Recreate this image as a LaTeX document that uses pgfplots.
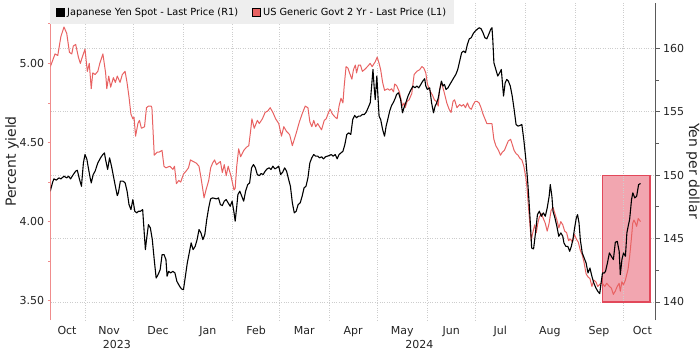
\documentclass[border=0pt]{standalone}
\usepackage{fontspec}
\setmainfont{DejaVu Sans}
\usepackage{pgfplots}
\pgfplotsset{compat=1.18}
\definecolor{usred}{RGB}{232,98,98}
\definecolor{leftax}{RGB}{240,140,140}
\definecolor{rightax}{RGB}{90,90,90}
\definecolor{gridc}{RGB}{205,205,205}
\definecolor{legbg}{RGB}{238,238,238}
\definecolor{rectfill}{RGB}{242,166,176}
\definecolor{rectdraw}{RGB}{226,72,90}
\definecolor{txt}{RGB}{35,35,35}
\pgfplotsset{
  base/.style={scale only axis, width=605pt, height=317pt, at={(0pt,0pt)}, anchor=south west,
    xmin=9.64, xmax=386.35,
    /pgf/number format/assume math mode=true,
    tick label style={font=\fontsize{11}{13}\selectfont, text=txt},
    label style={font=\fontsize{14}{16}\selectfont, text=txt},
  },
}
\begin{document}
\begin{tikzpicture}
% Axis A: right scale, grid, rectangle, right axis
\begin{axis}[base, ymin=138.58, ymax=163.58,
  axis x line=none, axis y line*=right,
  ytick={140,145,150,155,160}, minor ytick={142.5,147.5,152.5,157.5},
  ymajorgrids, major grid style={gridc, dotted, line width=0.6pt},
  y axis line style={rightax, line width=1.4pt},
  ytick style={rightax, line width=0.8pt}, tick align=outside,
  major tick length=4pt, minor tick length=3pt,
  ylabel={Yen per dollar},
  ylabel style={at={(axis description cs:1.0617,0.47)}, anchor=center, rotate=180},
]
\addplot[fill=rectfill, draw=rectdraw, line width=1.1pt, line join=miter] coordinates {(353.2,140) (382.8,140) (382.8,150) (353.2,150) (353.2,140)};
\end{axis}
% Axis B: left scale, US 2Y
\begin{axis}[base, ymin=3.378, ymax=5.382,
  axis y line*=left, axis x line*=bottom, x axis line style={draw=none},
  ytick={3.5,4,4.5,5}, minor ytick={3.75,4.25,4.75,5.25},
  yticklabel style={/pgf/number format/.cd, fixed, fixed zerofill, precision=2},
  y axis line style={leftax, line width=0.9pt}, ytick style={leftax, line width=0.8pt},
  tick align=outside, major tick length=3pt, minor tick length=2.5pt,
  xtick={19.8,46,76.5,107.5,137.5,167.5,198,228.5,259,289.5,320.5,351,378},
  xticklabels={Oct,Nov,Dec,Jan,Feb,Mar,Apr,May,Jun,Jul,Aug,Sep,Oct},
  xtick style={draw=none},
  minor xtick={31,61,92,123,152,183,213,244,274,305,336,366},
  xminorgrids, minor x grid style={gridc, dotted, line width=0.6pt},
  extra x ticks={50.8,239.2}, extra x tick labels={2023,2024},
  extra x tick style={grid=none, xticklabel style={yshift=-14pt}},
  ylabel={Percent yield},
  ylabel style={at={(axis description cs:-0.064,0.5)}, anchor=center},
]
\addplot[usred, line width=1pt, line join=round] coordinates {
(9.44,4.98) (12.35,5.06) (14.04,5.05) (15.98,5.17) (17.92,5.23) (19.62,5.19) (21.31,5.07) (22.76,5.06) (23.73,5.11) (25.19,5.12) (26.88,5.04) (28.09,5.00) (29.30,5.04) (31.0,5.09) (32.45,4.95) (33.66,5.00) (34.88,4.84) (35.84,4.94) (37.30,4.93) (38.99,4.95) (40.2,5.00) (42.14,5.06) (43.84,4.94) (44.56,4.84) (45.78,4.92) (46.99,4.85) (48.68,4.91) (49.89,4.88) (51.10,4.92) (52.80,4.88) (54.25,4.93) (55.95,4.95) (57.16,4.88) (58.37,4.79) (59.58,4.68) (60.79,4.65) (61.52,4.66) (62.49,4.54) (63.94,4.62) (64.91,4.64) (66.12,4.59) (68.06,4.60) (69.27,4.72) (70.48,4.73) (72.18,4.73) (72.66,4.72) (74.12,4.42) (76.05,4.44) (77.27,4.44) (78.96,4.45) (80.17,4.35) (81.38,4.34) (83.81,4.35) (85.74,4.33) (86.71,4.35) (87.92,4.24) (89.38,4.26) (90.59,4.25) (92.28,4.30) (93.98,4.32) (95.43,4.34) (96.65,4.39) (98.34,4.38) (100.28,4.37) (101.97,4.35) (103.18,4.28) (104.40,4.20) (105.12,4.15) (106.33,4.20) (108.03,4.26) (109.24,4.34) (110.45,4.37) (111.66,4.39) (112.87,4.36) (115.30,4.38) (116.51,4.31) (117.72,4.36) (118.93,4.29) (120.14,4.35) (121.84,4.29) (123.77,4.20) (124.50,4.21) (125.47,4.35) (126.68,4.46) (127.89,4.41) (129.83,4.45) (131.52,4.47) (132.98,4.48) (134.19,4.58) (134.92,4.65) (136.37,4.59) (138.31,4.64) (139.52,4.62) (141.46,4.65) (143.15,4.69) (144.85,4.70) (146.30,4.72) (148.0,4.69) (149.69,4.65) (151.63,4.62) (153.33,4.54) (154.78,4.60) (156.48,4.57) (158.41,4.55) (160.11,4.48) (161.32,4.52) (162.53,4.56) (164.47,4.63) (166.16,4.68) (168.10,4.73) (169.80,4.72) (171.01,4.63) (172.22,4.60) (173.43,4.64) (174.64,4.60) (175.85,4.62) (177.06,4.60) (178.28,4.58) (179.97,4.64) (181.18,4.65) (182.64,4.69) (183.61,4.71) (185.06,4.68) (186.76,4.66) (187.97,4.65) (189.18,4.73) (190.39,4.78) (191.60,4.75) (192.33,4.85) (193.54,4.98) (194.75,4.97) (195.72,4.94) (197.17,4.90) (198.14,4.96) (199.35,4.99) (200.08,4.94) (201.29,4.99) (202.50,4.99) (203.71,4.95) (204.92,4.96) (206.86,4.98) (208.55,5.00) (209.77,4.98) (211.70,5.01) (212.92,5.04) (214.13,5.00) (215.10,4.96) (216.31,4.88) (217.52,4.83) (219.46,4.84) (220.67,4.83) (221.88,4.84) (223.09,4.82) (223.82,4.87) (225.03,4.86) (226.73,4.82) (228.66,4.73) (229.63,4.75) (230.36,4.72) (231.57,4.76) (232.78,4.77) (234.48,4.81) (235.93,4.93) (237.63,4.95) (239.32,4.96) (240.78,4.98) (241.99,4.97) (243.20,4.94) (244.17,4.87) (245.62,4.83) (247.32,4.80) (248.53,4.77) (249.74,4.76) (250.95,4.73) (251.67,4.83) (252.88,4.88) (254.58,4.82) (256.28,4.75) (257.73,4.71) (258.94,4.69) (260.15,4.76) (261.12,4.77) (262.57,4.72) (264.27,4.74) (265.48,4.73) (266.69,4.74) (267.90,4.72) (269.11,4.75) (270.32,4.72) (271.53,4.71) (272.75,4.74) (273.96,4.76) (275.17,4.76) (276.38,4.75) (277.59,4.72) (278.80,4.68) (280.01,4.65) (281.22,4.62) (282.92,4.62) (284.37,4.62) (285.58,4.52) (286.80,4.48) (288.49,4.45) (289.70,4.42) (290.91,4.44) (292.12,4.45) (293.33,4.48) (294.55,4.51) (296.0,4.52) (296.97,4.49) (298.18,4.45) (299.39,4.43) (300.60,4.42) (301.81,4.40) (303.02,4.39) (304.24,4.35) (305.45,4.28) (306.17,4.22) (307.14,4.09) (308.11,3.97) (308.84,3.88) (309.81,3.93) (311.02,3.98) (311.99,3.93) (312.96,3.99) (313.93,4.03) (315.14,4.05) (316.35,4.02) (317.56,3.99) (318.77,3.94) (319.98,3.99) (321.19,4.07) (322.40,4.09) (323.61,4.05) (324.82,4.01) (326.04,3.96) (327.25,4.00) (328.46,3.98) (329.67,3.94) (330.88,3.93) (332.09,3.88) (333.30,3.89) (334.51,3.87) (335.73,3.92) (336.94,3.89) (338.15,3.87) (339.36,3.82) (340.57,3.79) (341.78,3.74) (342.99,3.67) (344.20,3.65) (345.41,3.64) (346.63,3.59) (347.84,3.63) (349.05,3.62) (350.26,3.59) (352.19,3.61) (353.16,3.61) (354.62,3.59) (355.83,3.61) (357.53,3.59) (358.74,3.58) (359.95,3.54) (361.16,3.56) (362.37,3.59) (363.58,3.61) (364.31,3.56) (365.28,3.62) (366.25,3.60) (367.46,3.63) (368.42,3.67) (369.15,3.70) (370.12,3.78) (371.09,3.88) (372.06,3.99) (372.78,4.01) (373.75,3.99) (374.48,3.97) (375.45,4.02) (376.90,4.00)
};
\end{axis}
% Axis C: right scale, JPY
\begin{axis}[base, ymin=138.58, ymax=163.58, hide axis,
  legend style={at={(axis description cs:0,1)}, anchor=north west, yshift=3pt, xshift=-0.7pt,
    fill=legbg, draw=none, inner xsep=6pt, inner ysep=5.5pt, legend columns=2,
    font=\fontsize{9.8}{11}\selectfont, text=black,
    /tikz/every even column/.append style={column sep=12pt}},
  legend cell align=left,
  legend image code/.code={\fill[#1] (0pt,-3.6pt) rectangle (7.4pt,3.6pt); \path (8.6pt,0pt);},
]
\addlegendimage{fill=black}
\addlegendentry{Japanese Yen Spot - Last Price (R1)}
\addlegendimage{fill=usred}
\addlegendentry{US Generic Govt 2 Yr - Last Price (L1)}
\addplot[black, line width=1.1pt, line join=round, forget plot] coordinates {
(9.4,148.74) (10.7,149.39) (11.6,149.71) (13.1,149.61) (14.8,149.79) (16.0,149.71) (17.9,149.92) (19.6,149.79) (20.8,149.92) (22.0,149.71) (23.7,150.05) (25.2,150.32) (26.2,150.39) (27.6,149.66) (28.8,149.13) (30.0,150.97) (31.0,151.63) (32.2,151.24) (32.9,150.71) (34.2,149.79) (34.9,149.39) (36.1,150.05) (37.3,150.32) (39.0,150.97) (40.7,151.37) (42.1,151.63) (43.1,151.76) (43.8,151.24) (45.1,150.45) (46.3,151.37) (47.5,150.71) (48.7,149.92) (49.9,149.13) (51.1,148.39) (51.8,148.61) (53.0,149.53) (54.7,149.53) (56.0,149.39) (57.2,148.74) (58.4,147.68) (59.6,147.29) (60.8,148.08) (62.0,147.16) (63.2,147.03) (64.4,147.16) (65.6,147.16) (66.9,147.29) (67.6,145.97) (68.6,144.13) (69.3,144.92) (70.5,146.10) (71.7,145.84) (72.9,144.92) (74.1,143.34) (75.3,141.89) (76.5,142.16) (77.8,142.55) (79.0,143.74) (80.2,143.74) (81.4,143.34) (82.1,142.03) (83.1,142.42) (84.3,142.29) (85.7,142.42) (87.0,142.29) (88.2,141.63) (89.9,141.24) (91.1,141.03) (92.3,140.97) (93.5,142.03) (94.7,143.08) (95.9,143.87) (97.1,144.66) (98.3,144.13) (99.6,144.39) (100.8,144.92) (102.0,145.71) (103.2,145.45) (104.4,144.92) (105.6,145.32) (106.8,146.50) (108.0,147.42) (109.2,148.13) (110.5,148.21) (112.9,148.13) (114.1,148.21) (115.3,147.68) (116.5,147.61) (117.7,147.95) (118.9,148.08) (120.1,147.82) (121.4,147.55) (122.6,147.95) (123.8,147.03) (124.5,146.37) (125.5,147.55) (126.2,148.47) (127.4,148.74) (128.6,148.34) (129.8,147.95) (131.0,148.74) (132.3,149.26) (133.5,149.39) (134.7,150.58) (135.9,150.84) (137.1,150.58) (138.3,150.05) (139.5,149.97) (140.7,150.13) (141.9,150.05) (143.2,150.32) (144.4,150.50) (145.6,150.58) (146.8,150.45) (148.0,150.71) (149.2,150.50) (150.4,150.58) (151.6,150.71) (152.8,150.05) (154.1,150.24) (155.3,150.58) (156.5,150.32) (157.7,149.71) (158.9,149.13) (160.1,147.82) (161.3,147.03) (162.5,147.16) (163.7,147.68) (165.0,147.82) (166.2,148.34) (167.4,149.00) (168.6,149.13) (169.8,149.79) (171.0,150.97) (172.2,151.37) (173.4,151.63) (174.6,151.50) (175.9,151.50) (177.1,151.37) (178.3,151.45) (179.5,151.29) (180.7,151.45) (181.9,151.50) (183.1,151.55) (184.3,151.63) (185.5,151.50) (186.8,151.63) (188.0,151.29) (189.2,151.63) (190.4,151.76) (191.6,151.89) (192.8,152.42) (194.0,153.21) (195.2,153.34) (196.5,153.21) (197.7,154.39) (198.9,154.71) (200.1,154.53) (201.3,154.66) (202.5,154.66) (203.7,154.79) (204.9,154.79) (206.1,154.97) (207.3,155.32) (208.6,155.71) (209.3,156.76) (210.3,158.34) (211.0,157.03) (211.7,155.97) (212.7,157.82) (213.4,156.24) (214.1,154.66) (215.1,154.39) (216.3,153.61) (217.5,153.08) (218.5,153.87) (219.5,154.39) (220.7,155.05) (221.9,155.50) (223.1,155.76) (224.3,156.11) (225.0,156.37) (226.2,156.50) (227.5,155.97) (228.7,154.92) (229.6,155.32) (231.1,155.84) (232.1,156.24) (233.5,156.63) (235.2,157.03) (236.4,156.89) (237.6,157.03) (238.8,156.89) (240.1,157.16) (241.3,157.42) (242.5,157.61) (243.2,157.03) (244.2,156.76) (245.6,156.89) (246.8,155.71) (248.0,154.92) (249.0,155.45) (250.0,155.71) (251.0,156.11) (251.9,156.76) (252.9,157.42) (253.9,157.03) (254.8,157.16) (255.8,156.76) (257.0,156.89) (258.2,157.16) (259.4,157.42) (260.6,157.68) (261.9,157.95) (263.1,158.34) (264.3,159.00) (265.5,159.66) (266.7,159.79) (267.9,159.66) (269.1,160.32) (270.3,160.76) (271.5,160.84) (272.8,161.18) (274.0,161.37) (275.2,161.50) (276.4,161.63) (277.6,161.55) (278.8,161.24) (280.0,160.84) (281.2,160.76) (282.4,161.11) (283.6,161.50) (284.4,161.63) (284.9,160.71) (285.6,158.87) (286.8,158.34) (288.0,157.82) (289.2,158.08) (290.2,158.34) (290.9,157.29) (291.6,156.24) (292.6,157.29) (293.6,157.55) (294.6,157.42) (295.8,157.03) (297.0,156.24) (298.2,155.18) (299.4,154.00) (300.6,153.87) (301.8,153.92) (303.0,154.00) (304.2,152.82) (305.5,151.24) (306.7,149.39) (307.4,148.08) (308.4,145.97) (309.1,144.26) (310.3,144.18) (311.5,145.45) (312.7,146.89) (313.9,147.16) (315.1,146.76) (316.4,147.03) (317.6,146.76) (318.8,147.42) (320.0,148.34) (320.7,149.26) (321.7,148.34) (322.4,147.16) (323.6,146.63) (324.8,145.97) (326.0,145.18) (327.3,145.45) (328.5,145.18) (329.2,144.66) (330.4,144.39) (331.6,144.39) (332.8,144.00) (333.8,144.39) (334.8,144.92) (335.7,145.71) (336.9,146.63) (337.7,146.89) (338.6,146.24) (339.4,144.92) (340.6,143.87) (341.8,143.47) (343.0,143.08) (344.2,142.29) (345.4,142.68) (346.6,142.03) (347.8,141.50) (349.1,141.11) (350.3,140.84) (351.5,140.66) (352.2,141.37) (353.2,142.29) (354.4,142.29) (355.1,142.42) (356.3,143.08) (357.5,143.87) (358.7,143.61) (360.0,143.34) (361.2,144.71) (362.4,144.79) (363.6,144.00) (364.3,142.16) (365.3,143.34) (366.3,143.87) (367.5,143.61) (368.4,145.45) (369.2,145.97) (370.1,146.50) (371.3,148.08) (372.1,148.61) (373.3,148.21) (374.5,148.34) (375.7,149.26) (376.9,149.34)
};
\end{axis}
\pgfresetboundingbox
\path[use as bounding box] (-50.7pt,-33pt) rectangle (649.3pt,320pt);
\end{tikzpicture}
\end{document}
